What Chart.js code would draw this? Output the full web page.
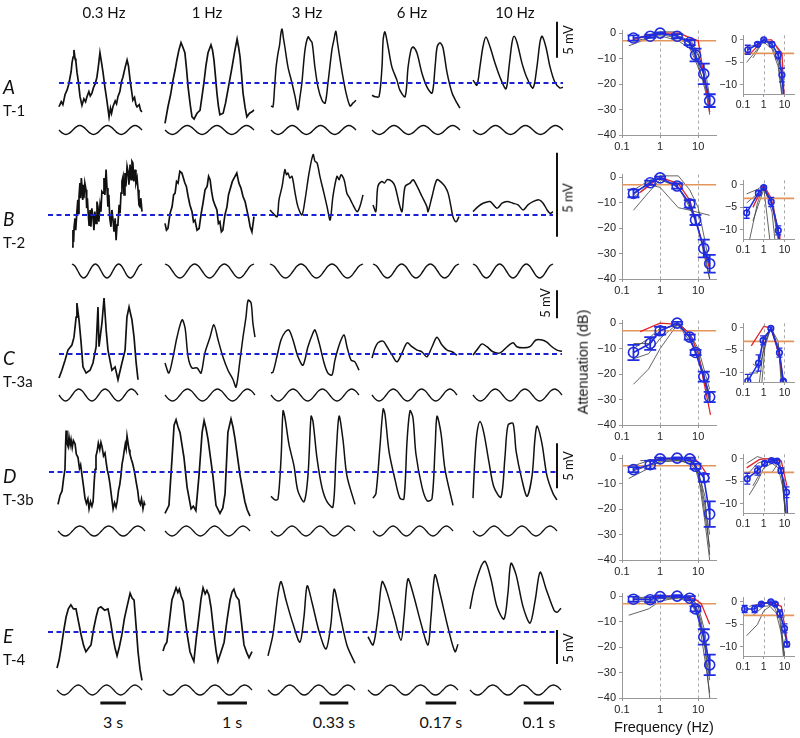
<!DOCTYPE html>
<html lang="en">
<head>
<meta charset="utf-8">
<title>Frequency tuning of traces</title>
<script src="https://cdn.jsdelivr.net/npm/chart.js"></script>
<style>
  body { margin: 0; background: #fff; }
  #fig { position: relative; width: 800px; height: 738px; overflow: hidden; background: #fff; color: #111; font-family: Lato, 'Open Sans', sans-serif; }
  #fig canvas { position: absolute; }
  .txt { position: absolute; white-space: nowrap; line-height: 1; }
</style>
</head>
<body>
<div id="fig"></div>
<script>
// ---- data: voltage traces, [stimulus cycle, mV above baseline] ----
const stimHz = [0.3, 1, 3, 6, 10];
const freqLabels = ['0.3 Hz', '1 Hz', '3 Hz', '6 Hz', '10 Hz'];
const rowLetters = ['A', 'B', 'C', 'D', 'E'];
const rowCells = ['T-1', 'T-2', 'T-3a', 'T-3b', 'T-4'];
const barSec = [3, 1, 0.33, 0.17, 0.1];
const barText = ['3 s', '1 s', '0.33 s', '0.17 s', '0.1 s'];

const stimNeg = [0,-0.71,-1,-0.71,0,0.71,1,0.71,0,-0.71,-1,-0.71,0,0.71,1,0.71,0,-0.71,-1,-0.71,0,0.71,1,0.71,0];
const stimCos = [1,0.71,0,-0.71,-1,-0.71,0,0.71,1,0.71,0,-0.71,-1,-0.71,0,0.71,1,0.71,0,-0.71,-1,-0.71,0,0.71,1];

const tracesA = [
  [[0,-3.3],[0.08,-2.6],[0.14,-3.0],[0.22,-1.6],[0.29,-1.0],[0.35,-0.2],[0.4,0.8],[0.44,1.6],[0.47,2.8],[0.51,3.6],[0.54,4.6],[0.58,3.4],[0.61,3.0],[0.65,1.5],[0.7,0.2],[0.76,-1.9],[0.83,-3.1],[0.9,-2.2],[0.96,-2.6],[1.01,-1.9],[1.08,-1.2],[1.13,-1.8],[1.19,-1.4],[1.25,-0.6],[1.31,-0.1],[1.37,0.8],[1.42,2.2],[1.48,4.2],[1.53,3.0],[1.59,1.5],[1.66,-0.6],[1.73,-2.4],[1.81,-4.7],[1.86,-3.5],[1.9,-4.2],[1.95,-3.3],[2.03,-2.5],[2.08,-2.9],[2.13,-1.9],[2.2,-1.2],[2.26,0.2],[2.31,0.8],[2.38,2.0],[2.46,3.2],[2.51,2.4],[2.57,0.4],[2.62,-1.0],[2.67,-2.4],[2.73,-2.0],[2.78,-3.0],[2.82,-3.3],[2.9,-3.0],[2.95,-3.8],[3,-4.0]],
  [[0,-5.6],[0.1,-3.3],[0.19,-1.6],[0.27,0.4],[0.34,1.8],[0.4,3.2],[0.47,4.6],[0.54,5.6],[0.6,5.0],[0.67,4.2],[0.72,2.2],[0.78,-0.6],[0.85,-3.0],[0.91,-4.7],[0.98,-5.0],[1.08,-4.2],[1.18,-3.8],[1.25,-1.8],[1.31,0],[1.38,2.4],[1.45,4.2],[1.55,5.3],[1.6,4.6],[1.65,3.2],[1.7,1.0],[1.75,-1.4],[1.8,-3.2],[1.85,-4.4],[1.96,-4.2],[2.04,-2.8],[2.12,-1.0],[2.19,0.6],[2.26,2.2],[2.35,4.4],[2.43,6.1],[2.48,5.0],[2.53,3.6],[2.58,1.2],[2.63,-1.4],[2.7,-3.4],[2.76,-4.7],[2.85,-4.2],[2.93,-4.0],[3,-3.75]],
  [[0,-3.2],[0.07,-3.3],[0.12,-1.0],[0.18,2.2],[0.25,4.2],[0.3,5.2],[0.35,6.9],[0.39,7.5],[0.44,6.2],[0.49,5.0],[0.6,2.2],[0.74,0],[0.85,-1.9],[0.95,-3.75],[1.02,-2.0],[1.09,0],[1.2,4.6],[1.31,6.4],[1.38,6.0],[1.45,5.6],[1.55,2.2],[1.66,-0.6],[1.8,-2.4],[1.91,-2.8],[2.01,0],[2.15,4.6],[2.22,6.0],[2.29,7.2],[2.34,5.8],[2.4,4.2],[2.54,0.8],[2.65,-1.4],[2.79,-3.2],[2.89,-2.8],[3,-2.4]],
  [[0,-1.7],[0.1,-1.9],[0.24,-1.9],[0.34,2.2],[0.38,6.0],[0.44,7.1],[0.55,5.0],[0.68,2.2],[0.85,0.4],[0.95,-1.0],[1.13,-1.9],[1.23,2.2],[1.33,4.6],[1.4,5.0],[1.53,4.2],[1.7,1.4],[1.88,-0.6],[2.05,-1.4],[2.15,2.2],[2.22,5.0],[2.32,5.6],[2.42,4.9],[2.56,1.4],[2.73,-1.4],[2.9,-2.8],[3,-3.5]],
  [[0,0.4],[0.13,-0.3],[0.23,2.2],[0.33,5.0],[0.43,6.4],[0.57,5.0],[0.73,2.8],[0.9,0.8],[1.1,-0.8],[1.2,2.2],[1.3,5.6],[1.37,6.5],[1.47,5.6],[1.63,2.8],[1.8,0.7],[2.0,-0.7],[2.13,2.2],[2.23,5.6],[2.3,6.5],[2.43,5.0],[2.57,2.2],[2.73,0.1],[2.9,-0.7],[3,-0.6]]
];
const tracesB = [
  [[0,-1.9],[0.04,-0.9],[0.07,-1.6],[0.09,-0.7],[0.13,-0.2],[0.16,-0.9],[0.21,0.2],[0.25,0.9],[0.27,0.1],[0.3,1.1],[0.34,1.9],[0.37,1.0],[0.4,2.2],[0.43,1.7],[0.46,0.9],[0.49,1.8],[0.51,1.0],[0.55,1.9],[0.6,1.5],[0.63,0.4],[0.66,1.0],[0.69,0.2],[0.73,-0.6],[0.77,0.3],[0.81,-0.7],[0.85,0.4],[0.9,-0.1],[0.94,-0.9],[0.98,0.2],[1.03,-0.5],[1.07,0.8],[1.11,0.5],[1.15,-0.4],[1.2,0.6],[1.24,0.2],[1.28,1.4],[1.33,1.3],[1.37,2.2],[1.41,1.2],[1.46,2.7],[1.5,1.6],[1.54,0.5],[1.58,1.2],[1.62,-0.2],[1.67,-0.7],[1.71,0.3],[1.76,-0.3],[1.8,-1.0],[1.85,-0.2],[1.89,-1.5],[1.93,-0.6],[1.97,-0.5],[2.02,0.6],[2.06,0.1],[2.1,1.3],[2.14,2.0],[2.19,2.3],[2.23,1.2],[2.27,2.5],[2.31,1.7],[2.36,2.9],[2.4,2.6],[2.44,1.8],[2.49,3.0],[2.53,2.1],[2.57,3.2],[2.61,3.1],[2.65,2.0],[2.7,2.7],[2.74,1.9],[2.79,2.2],[2.83,1.5],[2.87,0.6],[2.91,0.5],[2.95,1.0],[3,0.2]],
  [[0,-0.5],[0.05,-0.9],[0.1,-0.8],[0.17,0.1],[0.24,0.5],[0.29,1.2],[0.34,1.3],[0.39,2.0],[0.44,1.9],[0.5,2.6],[0.57,2.5],[0.62,2.2],[0.67,1.9],[0.72,1.7],[0.78,1.1],[0.84,0.6],[0.91,0.2],[0.96,-0.4],[1.01,-0.3],[1.08,-0.9],[1.15,-0.8],[1.22,0.1],[1.28,0.7],[1.35,1.5],[1.42,1.7],[1.47,2.3],[1.52,2.1],[1.57,1.4],[1.62,0.9],[1.68,0.6],[1.75,0.3],[1.8,-0.5],[1.85,-0.4],[1.9,-1.0],[1.95,-0.9],[2.02,0],[2.09,0.5],[2.14,1.2],[2.19,1.5],[2.27,2.0],[2.36,2.3],[2.42,2.5],[2.49,1.9],[2.56,1.6],[2.63,1.1],[2.7,0.8],[2.76,0.3],[2.82,-0.2],[2.87,-0.7],[2.93,-1.0],[3,-0.1]],
  [[0,0.3],[0.1,0.1],[0.23,-0.1],[0.29,0.9],[0.39,1.7],[0.48,2.7],[0.53,2.4],[0.58,2.5],[0.64,2.2],[0.71,2.3],[0.81,1.3],[0.9,0.5],[1.03,0],[1.13,0.9],[1.26,2.5],[1.39,3.6],[1.45,3.2],[1.52,3.1],[1.61,2.3],[1.74,1.3],[1.84,0.5],[1.94,-0.3],[2.03,1.1],[2.16,2.3],[2.23,2.1],[2.29,2.4],[2.39,2.1],[2.48,1.3],[2.57,1.0],[2.65,0.7],[2.81,0.2],[2.9,0.5],[3,1.2]],
  [[0,0.6],[0.1,0.2],[0.17,1.7],[0.31,2.0],[0.4,1.9],[0.49,2.1],[0.66,2.0],[0.77,1.7],[0.91,0.7],[1.01,0.2],[1.12,1.7],[1.29,1.9],[1.4,2.1],[1.54,1.7],[1.71,1.1],[1.88,0.5],[1.92,0.2],[2.06,1.1],[2.23,2.1],[2.41,1.9],[2.51,1.7],[2.62,1.3],[2.72,0.5],[2.79,-0.1],[2.9,-0.4],[3,-0.1]],
  [[0,0.2],[0.19,0.5],[0.38,0.7],[0.64,0.8],[0.9,0.4],[1.09,0.7],[1.28,0.8],[1.5,0.7],[1.69,0.6],[1.88,0.3],[2.06,0.6],[2.25,0.8],[2.48,0.9],[2.63,0.7],[2.78,0.3],[2.89,0.1],[3,0.2]]
];
const tracesC = [
  [[0,-4.3],[0.11,-2.9],[0.23,-1.1],[0.34,0.7],[0.49,1.6],[0.57,3.0],[0.65,6.6],[0.68,9.1],[0.76,6.1],[0.84,2.0],[0.91,-2.3],[1.03,-3.4],[1.18,-2.9],[1.29,-1.6],[1.41,1.3],[1.48,8.4],[1.52,1.3],[1.63,5.5],[1.71,10.0],[1.79,4.3],[1.86,0.7],[2.01,-2.9],[2.13,-2.3],[2.24,-4.6],[2.39,-1.6],[2.51,0.7],[2.58,6.6],[2.66,8.4],[2.77,6.1],[2.85,3.0],[2.93,-1.6],[3,-4.6]],
  [[0,-1.6],[0.13,-3.4],[0.27,-0.5],[0.4,3.0],[0.57,6.1],[0.67,4.6],[0.77,-0.5],[0.9,-2.5],[1.07,-2.5],[1.2,-3.4],[1.33,0.2],[1.5,3.0],[1.63,5.2],[1.77,2.5],[1.93,-0.5],[2.1,-2.9],[2.27,-4.6],[2.37,-5.9],[2.5,-1.1],[2.6,3.0],[2.7,6.6],[2.77,9.6],[2.87,9.1],[2.93,5.5],[3,3.0]],
  [[0,-3.4],[0.07,-3.2],[0.2,-0.5],[0.34,2.5],[0.48,3.9],[0.61,4.3],[0.75,2.5],[0.92,-0.5],[1.09,-2.0],[1.26,1.3],[1.43,3.75],[1.5,4.3],[1.64,2.0],[1.81,-1.6],[1.94,-3.4],[2.08,-3.75],[2.18,-1.1],[2.35,2.0],[2.49,3.4],[2.59,1.3],[2.73,-1.1],[2.86,-1.4],[3,-2.9]],
  [[0,-0.7],[0.11,1.1],[0.21,2.0],[0.39,2.3],[0.53,1.3],[0.71,-0.2],[0.88,-1.4],[1.06,0.2],[1.24,2.0],[1.41,1.3],[1.59,0.7],[1.76,0.4],[1.94,-0.5],[2.12,1.3],[2.29,3.0],[2.47,1.6],[2.65,0.7],[2.82,0.4],[3,-0.2]],
  [[0,-0.2],[0.13,0.7],[0.3,1.8],[0.47,1.3],[0.67,0.4],[0.91,0.2],[1.15,1.3],[1.35,2.0],[1.48,1.3],[1.69,1.1],[1.92,1.3],[2.12,2.5],[2.33,2.5],[2.49,2.1],[2.66,1.3],[2.83,0.7],[3,0.5]]
];
const tracesD = [
  [[0,-3.6],[0.07,-2.6],[0.14,-2.1],[0.19,-0.8],[0.24,0.3],[0.26,2.8],[0.28,4.6],[0.31,3.2],[0.35,2.8],[0.38,3.9],[0.42,3.0],[0.45,3.6],[0.49,2.7],[0.53,3.5],[0.59,3.1],[0.63,2.0],[0.69,1.6],[0.74,0.4],[0.78,0.8],[0.83,-0.4],[0.88,-1.6],[0.93,-2.9],[0.98,-3.5],[1.03,-3.0],[1.07,-4.1],[1.12,-3.3],[1.17,-3.8],[1.21,-3.3],[1.25,-1.0],[1.28,0.3],[1.31,1.8],[1.35,2.3],[1.39,3.2],[1.44,2.5],[1.48,3.3],[1.52,2.8],[1.57,1.8],[1.62,2.1],[1.66,1.1],[1.7,0.2],[1.74,-0.3],[1.79,-1.3],[1.84,-2.6],[1.9,-4.1],[1.95,-3.4],[2.0,-3.9],[2.04,-3.3],[2.09,-2.0],[2.13,-1.4],[2.17,-0.4],[2.21,0.9],[2.25,1.6],[2.28,2.3],[2.32,3.1],[2.35,2.6],[2.38,4.0],[2.42,3.1],[2.45,2.5],[2.48,2.0],[2.53,1.4],[2.57,1.0],[2.62,0.3],[2.66,-0.4],[2.7,-1.2],[2.75,-2.1],[2.79,-3.2],[2.84,-3.6],[2.88,-3.0],[2.93,-4.1],[2.97,-3.4],[3,-3.7]],
  [[0,-4.6],[0.14,-3.7],[0.25,1.6],[0.32,5.2],[0.39,5.8],[0.46,5.0],[0.53,4.4],[0.67,1.6],[0.78,-1.7],[0.92,-4.1],[1.0,-3.8],[1.09,-4.3],[1.2,-0.4],[1.31,4.4],[1.38,5.7],[1.45,4.8],[1.52,3.6],[1.69,-0.4],[1.8,-3.7],[1.94,-4.6],[2.04,-4.0],[2.12,-2.4],[2.22,4.4],[2.33,5.9],[2.4,5.0],[2.47,3.7],[2.65,-0.4],[2.82,-3.3],[2.9,-4.2],[3,-4.9]],
  [[0,-2.7],[0.14,-3.1],[0.25,-3.0],[0.36,1.6],[0.43,6.8],[0.5,6.0],[0.64,3.1],[0.82,0.7],[0.96,-2.1],[1.18,-3.3],[1.32,-0.4],[1.43,6.2],[1.5,5.6],[1.64,1.6],[1.82,-1.7],[2.0,-3.3],[2.21,-3.9],[2.32,1.6],[2.43,6.2],[2.57,3.6],[2.71,-0.4],[3,-3.6]],
  [[0,-2.9],[0.11,-2.4],[0.26,2.8],[0.38,7.0],[0.45,6.4],[0.6,2.3],[0.83,-0.9],[1.01,-2.9],[1.16,-3.0],[1.28,3.6],[1.39,6.8],[1.5,6.0],[1.61,2.0],[1.84,-1.7],[2.03,-3.2],[2.21,-3.0],[2.33,2.8],[2.4,6.2],[2.55,4.3],[2.7,0.3],[3,-3.7]],
  [[0,-2.9],[0.07,1.6],[0.14,4.3],[0.25,5.6],[0.39,4.3],[0.57,1.1],[0.75,-1.7],[1.0,-2.8],[1.14,1.6],[1.25,5.2],[1.43,5.4],[1.54,2.3],[1.75,-0.9],[1.93,-2.7],[2.11,-0.4],[2.21,3.6],[2.29,5.1],[2.46,3.2],[2.64,-0.4],[2.86,-2.4],[3,-3.1]]
];
const tracesE = [
  [[0,-5.3],[0.07,-4.2],[0.14,-2.5],[0.23,0],[0.32,2.2],[0.4,3.4],[0.49,4.0],[0.58,3.4],[0.67,3.4],[0.76,1.5],[0.85,-0.4],[0.94,-2.0],[1.02,-2.9],[1.11,-2.4],[1.2,-1.9],[1.29,0.4],[1.38,2.2],[1.46,3.5],[1.55,3.7],[1.68,3.2],[1.8,3.4],[1.89,1.5],[1.98,-0.9],[2.05,-2.4],[2.12,-3.5],[2.2,-2.2],[2.29,-0.4],[2.38,2.0],[2.47,3.7],[2.58,5.7],[2.65,5.0],[2.72,4.7],[2.79,1.0],[2.86,-2.9],[2.93,-5.5],[3,-7.1]],
  [[0,-2.8],[0.06,-2.0],[0.13,-1.5],[0.2,1.0],[0.3,4.7],[0.37,5.6],[0.44,6.5],[0.5,5.8],[0.55,6.3],[0.61,5.3],[0.68,4.5],[0.74,2.2],[0.82,-0.5],[0.91,-2.9],[0.97,-3.6],[1.04,-4.3],[1.12,-1.0],[1.21,2.2],[1.28,4.8],[1.35,6.5],[1.42,5.6],[1.48,6.1],[1.55,5.4],[1.62,3.6],[1.72,-0.4],[1.79,-2.8],[1.85,-4.3],[1.95,-3.0],[2.06,-1.5],[2.16,1.8],[2.26,4.7],[2.33,5.9],[2.39,6.3],[2.47,5.2],[2.56,4.7],[2.64,1.6],[2.73,-1.9],[2.82,-3.0],[2.9,-3.8],[3,-2.9]],
  [[0,-3.5],[0.17,-0.4],[0.35,5.7],[0.45,7.4],[0.62,4.7],[0.86,1.2],[1.1,-1.5],[1.24,2.2],[1.35,6.8],[1.52,4.3],[1.76,0.1],[2.0,-2.5],[2.17,1.2],[2.28,6.3],[2.45,3.2],[2.72,-1.9],[3,-4.6]],
  [[0,-0.7],[0.17,-1.9],[0.33,2.2],[0.47,7.4],[0.63,5.9],[0.87,2.2],[1.1,-1.2],[1.2,2.2],[1.33,7.8],[1.5,5.7],[1.77,1.2],[2.0,-1.9],[2.1,2.2],[2.23,8.4],[2.4,5.7],[2.67,0.6],[2.9,-2.9],[3,-1.8]],
  [[0,3.4],[0.13,6.3],[0.36,9.6],[0.5,10.4],[0.69,7.8],[0.89,3.7],[1.12,1.9],[1.25,5.7],[1.35,10.1],[1.52,8.4],[1.75,3.7],[1.98,1.3],[2.15,4.7],[2.31,8.8],[2.51,6.3],[2.77,3.2],[2.87,2.9],[3,3.5]]
];
const traces = [tracesA, tracesB, tracesC, tracesD, tracesE];
const rowStim = ['neg', 'cos', 'neg', 'neg', 'neg'];

// ---- data: attenuation curves (frequency Hz, dB) ----
const bigFreq = [0.2, 0.55, 1, 2.8, 6, 8.5, 14, 20];
const bigMean = [
  [-1.9, -1.2, 0, -1.2, -3.7, -8.6, -16, -26.5],
  [-6.4, -2.2, -0.3, -3.5, -10.5, -16.8, -28, -34],
  [-11.5, -8, -3, 0, -5.5, -11.5, -21, -29],
  [-4.5, -2.6, -0.3, 0, -0.3, -3.2, -7.7, -22],
  [-1.2, -1.4, -0.2, 0, -0.8, -5, -16, -27]
];
const bigErr = [
  [1, 0.6, 0.3, 0.8, 1, 2.5, 4, 2.5],
  [1.5, 0.8, 0.5, 1, 1.5, 2, 3.5, 3.5],
  [3, 2.5, 1.5, 0.5, 1, 1, 2, 2],
  [1, 1.5, 0.5, 0.3, 0.5, 1, 1.5, 5],
  [1, 1, 0.5, 0.4, 0.8, 1, 3, 4]
];
const bigRed = [
  [[0.2,-2.5],[0.5,-1],[1,0],[3,0],[10,-3],[20,-31]],
  [[0.3,-6],[1,0],[3,-2.5],[6,-9],[20,-36]],
  [[0.3,-3.3],[1,0],[3,-0.5],[6,-4],[10,-12],[21,-36]],
  [[0.5,-1.5],[1,-0.3],[3,0],[8,0],[12,-3],[20,-8]],
  [[0.5,-0.5],[1,0],[3,0],[8,-1],[12,-3],[20,-11]]
];
const bigCells = [
  [[[0.15,-5],[0.5,-2],[1,-0.5],[3,-2],[6,-5],[10,-12],[15,-22],[20,-30]],
   [[0.2,-2],[0.5,-1],[1,0],[3,-1],[6,-3],[8,-6],[15,-14],[20,-25]],
   [[0.2,-3],[0.5,-2],[1,-1],[3,-3],[6,-6],[8,-10],[15,-20],[20,-28]],
   [[0.3,-1.5],[1,0.5],[3,0.5],[6,-2],[10,-8],[15,-18],[20,-32]]],
  [[[0.2,-13],[0.5,-6],[1,-1],[3,-4],[6,-12],[10,-20],[15,-30],[20,-40]],
   [[0.2,-8],[0.5,-3],[1,-4],[3,-12],[6,-13],[20,-15]],
   [[0.2,-5],[0.5,-1.5],[1,0.5],[3,0.5],[6,-5],[10,-12],[15,-25],[20,-35]],
   [[0.2,-7],[0.5,-2],[1,-0.5],[3,-4],[6,-11],[10,-20],[15,-32],[20,-40]]],
  [[[0.2,-24],[0.5,-18],[1,-10],[3,0],[6,-4],[10,-12],[20,-30]],
   [[0.2,-8],[0.5,-8],[1,-3],[3,0],[6,-4],[10,-10],[20,-26]],
   [[0.2,-14],[0.5,-12],[1,-6],[3,0],[6,-6],[10,-14],[20,-31]],
   [[0.2,-10],[0.5,-6],[1,-2],[3,-1],[6,-7],[10,-13],[15,-22],[20,-28]]],
  [[[0.15,-8],[0.5,-4],[1,-1],[3,-1],[6,-1],[10,-5],[15,-15],[20,-38]],
   [[0.2,-3],[0.5,-1],[1,0],[3,0],[8,-2],[12,-10],[20,-30]],
   [[0.2,-5],[0.5,-3],[1,-1.5],[3,-1],[6,-2],[10,-6],[15,-25],[20,-40]],
   [[0.3,-1],[1,-0.5],[3,-0.5],[8,-3],[12,-12],[20,-35]]],
  [[[0.15,-7.5],[0.5,-5],[1,-2],[3,-0.5],[6,-1],[10,-6],[15,-20],[20,-40]],
   [[0.2,-1],[0.5,-1],[1,0],[3,0],[6,0],[10,-4],[15,-14],[20,-30]],
   [[0.2,-2],[0.5,-2],[1,-1],[3,-1],[6,-2],[10,-8],[15,-25],[20,-38]],
   [[0.2,-0.5],[1,-0.5],[3,-0.5],[8,-2],[12,-10],[20,-33]]]
];
const insetFreq = [
  [0.17, 0.5, 1, 2.5, 5, 7.5, 9.5],
  [0.15, 0.55, 1, 2.3, 5, 5.8],
  [0.17, 0.56, 0.93, 2.2, 5.7, 8.8],
  [0.16, 0.5, 1.1, 2.4, 4.4, 6.7, 12.5, 14],
  [0.12, 0.36, 0.77, 2.2, 3.6, 6, 10, 12.9]
];
const insetMean = [
  [-2.2, -1, 0, -1, -3.4, -7.8, -13],
  [-6.2, -1.8, -0.6, -3.8, -10.1, -13],
  [-11.8, -7.8, -2.8, -0.1, -5.5, -11.8],
  [-4.4, -2.6, -1, -0.4, -0.5, -2.6, -7.4, -13],
  [-1.6, -1.6, -0.5, 0, -0.5, -2.6, -5.9, -9.4]
];
const insetErr = [
  [1, 0.4, 0.2, 0.5, 0.8, 1.5, 0],
  [1.2, 0.5, 0.3, 1, 1, 0],
  [1.5, 1.8, 1, 0.3, 1, 0.3],
  [1.2, 1, 0.4, 0.3, 0.3, 0.6, 1.2, 0],
  [0.8, 0.8, 0.3, 0.2, 0.3, 0.8, 1, 0.5]
];
const insetRed = [
  [[0.23,-3],[1,0],[2.4,0],[7.6,-3],[9.5,-12.6]],
  [[0.3,-5],[1,0],[2.3,-3],[5.5,-11],[6,-13]],
  [[0.25,-4],[1,0.3],[2.2,0],[5.5,-6],[9,-12]],
  [[0.15,-2],[0.6,-0.2],[1,0],[3,0],[7,-0.5],[13,-6]],
  [[0.3,-1],[1,-0.3],[3,-0.3],[7,-1],[15,-10]]
];
const insetCells = [
  [[[0.15,-5],[0.5,-2],[1,0],[2.5,-1.5],[5,-5],[8,-12.5]],
   [[0.2,-1.5],[0.5,-1],[1,-0.5],[2.5,-2],[5,-6],[7.5,-12.5]],
   [[0.3,-4],[1,-0.2],[3,-0.5],[6,-3],[9,-12.5]]],
  [[[0.15,-2],[0.5,-1],[1,0],[2.5,-4],[5,-12.5]],
   [[0.2,-12.5],[0.5,-4],[1,-0.2],[2.5,-6],[3.5,-12.5]],
   [[0.15,-4],[0.5,-2],[1,-0.5],[2,-12.5]],
   [[0.3,-8],[1,-1],[3,-5],[5,-11],[5.5,-12.5]]],
  [[[0.6,-12.5],[1,-4],[2.2,0],[5,-4],[8,-12.5]],
   [[0.8,-12.5],[1.2,-3],[2.2,0],[6,-6],[9,-12.5]],
   [[0.3,-8],[0.6,-9],[1,-5],[2.2,0],[5,-3],[7,-12.5]],
   [[0.2,-10],[0.5,-10],[1,-2],[2.5,0],[6,-7],[8.5,-12.5]]],
  [[[0.2,-8],[0.5,-5],[1,-2],[2.5,-1],[5,-2],[8,-6],[12,-12.5]],
   [[0.2,-3],[0.5,-1],[1,-0.5],[3,-0.5],[7,-2],[11,-12.5]],
   [[0.3,-6],[0.7,-3],[1,-3],[2.5,-3],[5,-1],[8,-4],[11,-12.5]],
   [[0.15,-1],[0.5,0.5],[1,0],[3,0],[6,-1],[9,-6],[12,-12.5]]],
  [[[0.15,-7.5],[0.5,-5],[1,-2],[2,-1],[4,-2.5],[8,-8],[10,-12.5]],
   [[0.2,-1],[1,-0.3],[3,-0.3],[6,-2],[10,-12.5]],
   [[0.3,-3],[1,-1],[3,-0.8],[6,-4],[9,-12.5]]]
];
const cutoffDb = -3;

// ---- layout (pixels) and line styles ----
const rowTop = [15, 140, 280, 403, 545];
const rowBottom = [150, 290, 412, 550, 700];
const rowBase = [83, 215, 354, 472, 632];
const rowPxPerMv = [7.2, 16.8, 5.6, 9, 6.8];
const stimMid = [130, 271, 395, 531, 690];
const stimAmp = [4.5, 7, 6, 5, 5];
const colX = [[59,165,271,372,473],[72,165,270,373,473],[59,165,271,372,473],[58,165,271,373,473],[57,163,268,368,470]];
const colW = [[83,89,85,88,90],[70,89,93,86,80],[79,90,88,85,89],[87,85,84,80,84],[85,89,87,90,91]];
const noisy = [[1,1,0,0,0],[1,1,0,0,0],[1,0,0,0,0],[1,1,0,0,0],[1,1,0,0,0]];
const blueFrom = [59, 48, 59, 49, 48];
const blueTo = [563, 553, 562, 556, 555];
const barX = 557;
const barTopMv = [8.5, 3.7, 11.4, 3.2, 0.3];
const mvLabel = [[568, 40], [568, 198], [545, 303], [568, 466], [568, 648]];
const headX = [104, 207, 307, 412, 515];
const barStartCycle = [1.53, 1.83, 1.78, 1.92, 1.77];
const bigZero = [32, 176, 322, 457, 595];
const insetZero = [39, 184, 327, 458, 601];

Chart.defaults.font.family = "'Liberation Sans', Arial, sans-serif";
Chart.defaults.color = '#222';

const fig = document.getElementById('fig');

function addCanvas(left, top, w, h) {
  const c = document.createElement('canvas');
  c.width = w; c.height = h;
  c.style.left = left + 'px'; c.style.top = top + 'px';
  c.style.width = w + 'px'; c.style.height = h + 'px';
  fig.appendChild(c);
  return c;
}

function addText(txt, x, y, size, opt) {
  opt = opt || {};
  const d = document.createElement('div');
  d.className = 'txt';
  d.textContent = txt;
  d.style.left = x + 'px';
  d.style.top = y + 'px';
  d.style.fontSize = size + 'px';
  let tf = opt.left ? 'translate(0,-50%)' : 'translate(-50%,-50%)';
  if (opt.rotate) tf += ' rotate(-90deg)';
  d.style.transform = tf;
  if (opt.italic) d.style.fontStyle = 'italic';
  if (opt.family) d.style.fontFamily = opt.family;
  fig.appendChild(d);
}

function line(points, color, width, extra) {
  return Object.assign({ data: points, borderColor: color, borderWidth: width, pointRadius: 0,
    fill: false, tension: 0, clip: false }, extra || {});
}

// ---- voltage trace rows ----
traces.forEach(function (rowTraces, r) {
  const top = rowTop[r], h = rowBottom[r] - top, k = rowPxPerMv[r];
  const yMax = (rowBase[r] - top) / k, yMin = -(rowBottom[r] - rowBase[r]) / k;
  const sMax = (stimMid[r] - top) / stimAmp[r], sMin = -(rowBottom[r] - stimMid[r]) / stimAmp[r];
  const stim = rowStim[r] === 'cos' ? stimCos : stimNeg;
  const ds = [];
  ds.push(line([{ x: blueFrom[r], y: 0 }, { x: blueTo[r], y: 0 }], '#1b22d6', 2, { borderDash: [5, 3.5] }));
  ds.push(line([{ x: barX, y: barTopMv[r] }, { x: barX, y: barTopMv[r] - 5 }], '#111', 2));
  rowTraces.forEach(function (tr, c) {
    const x0 = colX[r][c], w = colW[r][c];
    const rough = noisy[r][c] === 1;
    ds.push(line(tr.map(p => ({ x: x0 + p[0] * w / 3, y: p[1] })), '#111', rough ? 1.7 : 1.5,
      { tension: rough ? 0 : 0.3 }));
    ds.push(line(stim.map((v, i) => ({ x: x0 + (i / 8) * w / 3, y: v })), '#111', 1.4, { yAxisID: 'ys', tension: 0.4 }));
  });
  new Chart(addCanvas(0, top, 570, h), {
    type: 'line',
    data: { datasets: ds },
    options: {
      responsive: false, animation: false, events: [],
      layout: { padding: 0 },
      plugins: { legend: { display: false }, tooltip: { enabled: false } },
      scales: {
        x: { type: 'linear', display: false, min: 0, max: 570 },
        y: { type: 'linear', display: false, min: yMin, max: yMax },
        ys: { type: 'linear', display: false, position: 'right', min: sMin, max: sMax }
      }
    }
  });
  addText(rowLetters[r], 3, rowBase[r] + 3, 19, { left: true, italic: true });
  addText(rowCells[r], 3, rowBase[r] + 27, 15, { left: true });
  addText('5 mV', mvLabel[r][0], mvLabel[r][1], 13, { rotate: true });
});

// ---- time scale bars ----
(function () {
  const top = 695, h = 16, ds = [];
  barSec.forEach(function (s, c) {
    const x0 = colX[4][c], w = colW[4][c];
    const a = x0 + barStartCycle[c] * w / 3;
    const b = a + s * stimHz[c] * w / 3;
    ds.push(line([{ x: a, y: 0 }, { x: b, y: 0 }], '#111', 3));
    addText(barText[c], (a + b) / 2, 722, 16);
  });
  new Chart(addCanvas(0, top, 570, h), {
    type: 'line',
    data: { datasets: ds },
    options: {
      responsive: false, animation: false, events: [],
      plugins: { legend: { display: false }, tooltip: { enabled: false } },
      scales: { x: { type: 'linear', display: false, min: 0, max: 570 }, y: { display: false, min: -1, max: 1 } }
    }
  });
})();

freqLabels.forEach((t, c) => addText(t, headX[c], 12, 15));

// ---- attenuation plots ----
const vGuides = {
  id: 'vGuides',
  beforeDatasetsDraw(chart, args, opts) {
    const a = chart.chartArea, xs = chart.scales.x, ctx = chart.ctx;
    ctx.save();
    ctx.setLineDash([3, 3]);
    ctx.strokeStyle = '#a8a8a8';
    ctx.lineWidth = 1;
    (opts.values || []).forEach(v => {
      const px = Math.round(xs.getPixelForValue(v)) + 0.5;
      ctx.beginPath(); ctx.moveTo(px, a.top); ctx.lineTo(px, a.bottom); ctx.stroke();
    });
    ctx.restore();
  }
};
const errorBars = {
  id: 'errorBars',
  afterDatasetsDraw(chart) {
    const ctx = chart.ctx, xs = chart.scales.x, ys = chart.scales.y, a = chart.chartArea;
    chart.data.datasets.forEach(ds => {
      if (!ds.errors) return;
      ctx.save();
      ctx.beginPath();
      ctx.rect(a.left - 10, a.top - 10, a.right - a.left + 20, a.bottom - a.top + 10);
      ctx.clip();
      ctx.strokeStyle = ds.borderColor;
      ctx.lineWidth = ds.errorWidth;
      ds.data.forEach((p, j) => {
        const e = ds.errors[j];
        if (!e) return;
        const x = xs.getPixelForValue(p.x);
        const y1 = ys.getPixelForValue(p.y + e), y2 = ys.getPixelForValue(p.y - e);
        const cw = ds.capHalf;
        ctx.beginPath();
        ctx.moveTo(x, y1); ctx.lineTo(x, y2);
        ctx.moveTo(x - cw, y1); ctx.lineTo(x + cw, y1);
        ctx.moveTo(x - cw, y2); ctx.lineTo(x + cw, y2);
        ctx.stroke();
      });
      ctx.restore();
    });
  }
};

function freqChart(r, inset) {
  const big = !inset;
  const unit = big ? 2.575 : 4.6;
  const yMin = big ? -40 : -12;
  const yTicks = big ? [0, -10, -20, -30, -40] : [0, -5, -10];
  const zero = big ? bigZero[r] : insetZero[r];
  const areaTop = Math.round(zero - unit);
  const areaH = Math.round(unit * (1 - yMin));
  const padTop = 8, axisW = big ? 38 : 32, axisH = big ? 18 : 15;
  const left = big ? 584 : 711, width = big ? 139 : 89, padRight = big ? 6 : 3;
  const f = big ? bigFreq : insetFreq[r];
  const mean = big ? bigMean[r] : insetMean[r];
  const err = big ? bigErr[r] : insetErr[r];
  const red = big ? bigRed[r] : insetRed[r];
  const cells = big ? bigCells[r] : insetCells[r];
  const clipArea = big ? 10 : { left: 6, top: 6, right: 6, bottom: 0 };
  const pts = arr => arr.map(p => ({ x: p[0], y: p[1] }));
  const ds = [];
  ds.push({ data: f.map((x, i) => ({ x: x, y: mean[i] })), borderColor: '#1f2ce0', borderWidth: 1.6,
    pointRadius: big ? 5 : 2.8, pointBorderWidth: 1.6, pointBorderColor: '#1f2ce0',
    pointBackgroundColor: 'rgba(255,255,255,0)', errors: err, errorWidth: big ? 1.8 : 1.3,
    capHalf: big ? 6 : 3, clip: clipArea });
  ds.push({ data: pts(red), borderColor: '#e2262b', borderWidth: 1.3, pointRadius: 0, clip: clipArea });
  ds.push({ data: [{ x: 0.1, y: cutoffDb }, { x: 30, y: cutoffDb }], borderColor: '#e3955c', borderWidth: 1.6, pointRadius: 0 });
  cells.forEach(c => ds.push({ data: pts(c), borderColor: '#3c3c3c', borderWidth: 0.8, pointRadius: 0, clip: clipArea }));
  const fs = big ? 11 : 10.5;
  new Chart(addCanvas(left, areaTop - padTop, width, padTop + areaH + axisH), {
    type: 'line',
    data: { datasets: ds },
    options: {
      responsive: false, animation: false, events: [],
      layout: { padding: { top: padTop, right: padRight, left: 0, bottom: 0 } },
      plugins: { legend: { display: false }, tooltip: { enabled: false }, vGuides: { values: [1, 10] } },
      scales: {
        x: {
          type: 'logarithmic', min: 0.1, max: 30,
          afterBuildTicks: s => { s.ticks = [0.1, 1, 10].map(v => ({ value: v })); },
          afterFit: s => { s.height = axisH; },
          ticks: { callback: v => String(v), font: { size: fs }, padding: 2, autoSkip: false, maxRotation: 0 },
          grid: { drawOnChartArea: false, tickLength: 3, color: '#999' },
          border: { color: '#999' }
        },
        y: {
          type: 'linear', min: yMin, max: 1,
          afterBuildTicks: s => { s.ticks = yTicks.map(v => ({ value: v })); },
          afterFit: s => { s.width = axisW; },
          ticks: { callback: v => (v < 0 ? '\u2212' + (-v) : String(v)), font: { size: fs }, padding: 3, autoSkip: false },
          grid: { drawOnChartArea: false, tickLength: 3, color: '#999' },
          border: { color: '#999' }
        }
      }
    },
    plugins: [vGuides, errorBars]
  });
}

for (let r = 0; r < 5; r++) { freqChart(r, false); freqChart(r, true); }

addText('Attenuation (dB)', 583, 362, 14.5, { rotate: true, family: "'Liberation Sans', Arial, sans-serif" });
addText('Frequency (Hz)', 664, 727, 14.5, { family: "'Liberation Sans', Arial, sans-serif" });
</script>
</body>
</html>
